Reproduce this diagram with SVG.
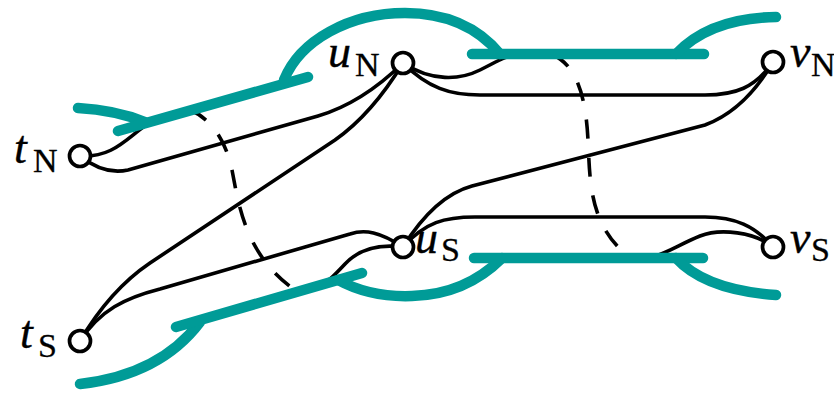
<svg xmlns="http://www.w3.org/2000/svg" width="834" height="393" viewBox="0 0 834 393">
  <style>
    .edge { fill: none; stroke: #000; stroke-width: 3.6; stroke-linecap: round; stroke-linejoin: round; }
    .dash { fill: none; stroke: #000; stroke-width: 3.6; stroke-dasharray: 19 19; }
    .path { fill: none; stroke: #009b97; stroke-width: 10.5; stroke-linecap: round; stroke-linejoin: round; }
    .node circle { fill: #fff; stroke: #000; stroke-width: 3.7; }
    .var { font-family: "Liberation Serif", "Times New Roman", serif; font-style: italic; font-size: 46px; fill: #000; stroke: #000; stroke-width: 0.4; }
    .sub { font-family: "Liberation Serif", "Times New Roman", serif; font-size: 34px; fill: #000; stroke: #000; stroke-width: 0.3; }
  </style>

  <!-- black edges between the terminals -->
  <g id="edges">
    <!-- t_N side -->
    <path class="edge" d="M80,156 C112,158 126,139 146,125 L200,108"/>
    <path class="edge" d="M80,156 C95,168 110,174 128,170 L318,116 Q362,103 403,63"/>
    <!-- u_N side -->
    <path class="edge" d="M403,63 C432,82 460,80 480,70 S505,56 520,54"/>
    <path class="edge" d="M403,63 C428,88 450,95 480,95 L705,95 C735,95 755,88 773,62"/>
    <!-- diagonals -->
    <path class="edge" d="M773,62 Q745,110 705,125 L472,186 Q435,196 403,247"/>
    <path class="edge" d="M80,341 Q110,290 150,263 L335,140 Q372,114 403,63"/>
    <!-- u_S side -->
    <path class="edge" d="M403,247 C425,222 445,217 475,217 L705,217 C735,217 755,226 773,247"/>
    <path class="edge" d="M80,341 C100,310 125,298 160,289 L350,234 C365,229 380,232 403,247"/>
    <path class="edge" d="M403,247 C380,244 360,248 345,264 S330,280 318,285"/>
    <!-- v_S side -->
    <path class="edge" d="M773,247 C755,232 720,228 700,236 S670,252 650,258"/>
  </g>

  <!-- dashed links between the two levels -->
  <g id="links">
    <path class="dash" d="M190,110 C210,118 226,140 232,170 C238,200 244,255 295,290"/>
    <path class="dash" d="M553,55 C578,66 586,100 588,140 C590,185 590,225 628,256"/>
  </g>

  <!-- highlighted routes -->
  <g id="routes">
    <path class="path" d="M78,108 Q115,110 145,122"/>
    <path class="path" d="M118,131 L308,77"/>
    <path class="path" d="M284,80 C300,40 350,13 405,13 C450,13 480,30 500,54"/>
    <path class="path" d="M472,54 L704,54"/>
    <path class="path" d="M676,54 Q710,18 776,17"/>
    <path class="path" d="M80,384 Q160,375 200,322"/>
    <path class="path" d="M176,327 L362,273"/>
    <path class="path" d="M338,280 C360,292 385,297 412,296 C450,295 480,280 502,258"/>
    <path class="path" d="M474,258 L703,258"/>
    <path class="path" d="M676,258 Q705,290 776,295"/>
  </g>

  <!-- terminals -->
  <g id="tN" class="node">
    <circle cx="80" cy="156" r="10.5"/>
    <text class="var" x="14" y="163">t</text><text class="sub" x="33" y="172">N</text>
  </g>
  <g id="uN" class="node">
    <circle cx="403" cy="63" r="10.5"/>
    <text class="var" x="328" y="67">u</text><text class="sub" x="355" y="76">N</text>
  </g>
  <g id="vN" class="node">
    <circle cx="773" cy="62" r="10.5"/>
    <text class="var" x="790" y="67">v</text><text class="sub" x="811" y="76">N</text>
  </g>
  <g id="tS" class="node">
    <circle cx="80" cy="341" r="10.5"/>
    <text class="var" x="20" y="348">t</text><text class="sub" x="38" y="357">S</text>
  </g>
  <g id="uS" class="node">
    <circle cx="403" cy="247" r="10.5"/>
    <text class="var" x="415" y="253">u</text><text class="sub" x="441" y="261">S</text>
  </g>
  <g id="vS" class="node">
    <circle cx="773" cy="247" r="10.5"/>
    <text class="var" x="790" y="253">v</text><text class="sub" x="811" y="261">S</text>
  </g>
</svg>
